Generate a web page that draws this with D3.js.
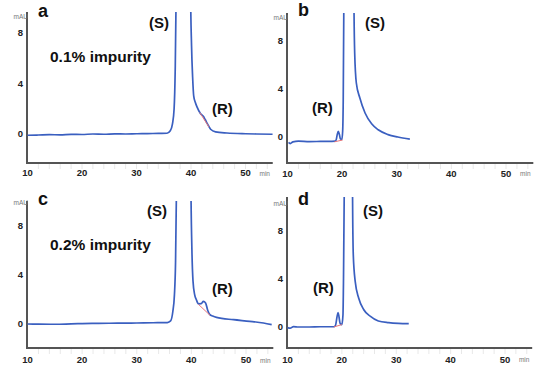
<!DOCTYPE html>
<html><head><meta charset="utf-8">
<script src="https://cdn.jsdelivr.net/npm/d3@7/dist/d3.min.js"></script>
<style>
html,body{margin:0;padding:0;background:#fff;}
svg{display:block;font-family:Arial,"Liberation Sans",sans-serif;}
</style></head>
<body><svg id="c" width="550" height="376"></svg>
<script>
// ---- data (time in min, absorbance in mAU) ----
const xTicks = [10, 20, 30, 40, 50];
const yTicks = [0, 4, 8];
const panelLetters = ["a", "b", "c", "d"];
const impurityLabels = ["0.1% impurity", "", "0.2% impurity", ""];

const traceA = [[10,-0.1],[12,-0.08],[14,-0.05],[16,-0.07],[18,-0.03],[20,-0.04],[22,0.0],[24,-0.02],[26,0.01],[28,0.0],[30,0.02],[32,0.03],[34,0.05],[35.6,0.06],[36.2,0.25],[36.6,0.8],[36.9,2.0],[37.1,5],[37.3,12],[37.6,40],[38.6,80],[39.6,40],[39.9,12],[40.1,7],[40.3,4.5],[40.5,3.0],[40.8,2.5],[41.1,2.15],[41.7,1.65],[42.3,1.38],[42.6,1.15],[43.0,0.82],[43.6,0.38],[44.5,0.17],[46.6,0.08],[50,0.02],[52,0.0],[55,-0.02]];
const traceB = [[10.2,-0.45],[10.5,-0.55],[11.0,-0.4],[12,-0.35],[14,-0.38],[16,-0.37],[18,-0.36],[18.7,-0.35],[18.9,-0.25],[19.1,0.2],[19.3,0.47],[19.5,0.2],[19.7,-0.17],[19.95,-0.2],[20.1,0.5],[20.2,3],[20.3,10],[20.5,40],[21.3,80],[22.0,40],[22.15,12],[22.3,7],[22.6,4.5],[23.25,3.25],[24.2,2.0],[25.4,1.1],[26.6,0.6],[28.4,0.2],[30.2,0.0],[32.4,-0.17]];
const traceC = [[10,0.0],[12,-0.01],[15,-0.02],[18,0.01],[20,0.03],[23,0.05],[25,0.06],[28,0.07],[30,0.08],[33,0.1],[35.6,0.12],[36.2,0.25],[36.6,1.0],[36.9,2.4],[37.1,5],[37.3,12],[37.6,40],[38.6,80],[39.6,40],[39.9,12],[40.1,6],[40.3,3.5],[40.6,2.4],[40.9,2.0],[41.3,1.65],[41.8,1.66],[42.2,1.84],[42.6,1.72],[43.0,1.1],[43.4,0.76],[43.9,0.65],[44.6,0.54],[47.7,0.35],[50.7,0.22],[53.2,0.08],[54.7,-0.05]];
const traceD = [[10.0,-0.05],[10.5,-0.1],[11.1,0.03],[12,0.0],[14,0.0],[16,0.02],[18.5,0.02],[18.8,0.1],[19.3,1.2],[19.7,0.28],[20.0,0.2],[20.2,1.0],[20.3,4],[20.45,12],[20.7,40],[21.3,80],[21.8,40],[21.95,12],[22.1,6],[22.45,3.8],[23.1,2.4],[24.0,1.46],[25.2,0.9],[26.7,0.5],[28.6,0.36],[30.4,0.3],[32.3,0.28]];

const baseA = [[41.6,1.7],[43.3,0.55]];
const baseB = [[18.6,-0.4],[20.1,-0.25]];
const baseC = [[41.3,1.6],[43.4,0.72]];
const baseD = [[18.5,0.0],[20.0,0.2]];

const traces = [traceA, traceB, traceC, traceD];
const baselines = [baseA, baseB, baseC, baseD];

// ---- layout ----
const layout = [
  {x10:27.5, x50:245.5, y0:134, y8:33, top:12, bottom:163, tickBase:176, minBase:176,
   letter:[38,17], S:[149,28.3], R:[212,113.5], imp:[50,61.5], mau:19},
  {x10:287.5, x50:506, y0:137, y8:41, top:13, bottom:163, tickBase:176.5, minBase:176,
   letter:[298,16], S:[365,28.3], R:[312,113.3], imp:[0,0], mau:20},
  {x10:27.5, x50:246, y0:324, y8:226, top:201, bottom:348, tickBase:363.3, minBase:363,
   letter:[38,205], S:[147,216.3], R:[212,294], imp:[50,250.3], mau:205},
  {x10:287.5, x50:505, y0:327, y8:231, top:197, bottom:348, tickBase:362.7, minBase:361.5,
   letter:[298,204.7], S:[363,216.3], R:[313,293], imp:[0,0], mau:206}
];

const svg = d3.select("#c");
const axisColor = "#555";
const traceColor = "#3a5fc0";
const redColor = "#e8767a";

layout.forEach((L, i) => {
  const x = d3.scaleLinear().domain([10, 50]).range([L.x10, L.x50]);
  const y = d3.scaleLinear().domain([0, 8]).range([L.y0, L.y8]);
  const g = svg.append("g");
  const axX = x(10) - 0.5;
  const xEnd = x(55);

  const clipId = "clip" + i;
  g.append("clipPath").attr("id", clipId).append("rect")
    .attr("x", axX).attr("y", L.top).attr("width", xEnd - axX).attr("height", L.bottom - L.top);

  // minor ticks (faint)
  const minor = d3.range(12, 55, 2);
  g.selectAll(".mt").data(minor).enter().append("line")
    .attr("x1", d => x(d)).attr("x2", d => x(d))
    .attr("y1", L.bottom + 1).attr("y2", L.bottom + 6)
    .attr("stroke", "#e2e2e2").attr("stroke-width", 0.8);

  // axes lines
  g.append("line").attr("x1", axX).attr("x2", axX).attr("y1", L.top).attr("y2", L.bottom + 1)
    .attr("stroke", axisColor).attr("stroke-width", 2);
  g.append("line").attr("x1", axX - 1).attr("x2", xEnd).attr("y1", L.bottom).attr("y2", L.bottom)
    .attr("stroke", axisColor).attr("stroke-width", 2);

  // x tick labels
  g.selectAll(".xt").data(xTicks).enter().append("text")
    .attr("x", d => x(d)).attr("y", L.tickBase)
    .attr("text-anchor", "middle").attr("font-size", 9.5).attr("font-weight", "bold")
    .attr("fill", "#222").text(d => d);
  // y tick labels
  g.selectAll(".yt").data(yTicks).enter().append("text")
    .attr("x", axX - 4).attr("y", d => y(d)).attr("dy", "0.35em")
    .attr("text-anchor", "end").attr("font-size", 9.5).attr("font-weight", "bold")
    .attr("fill", "#222").text(d => d);

  // unit labels
  g.append("text").attr("x", axX + 1).attr("y", L.mau).attr("text-anchor", "end")
    .attr("font-size", 6.5).attr("fill", "#777").text("mAU");
  g.append("text").attr("x", xEnd - 8).attr("y", L.minBase).attr("text-anchor", "middle")
    .attr("font-size", 6.5).attr("fill", "#777").text("min");

  // trace
  const line = d3.line().x(d => x(d[0])).y(d => y(d[1])).curve(d3.curveMonotoneX);
  const pg = g.append("g").attr("clip-path", `url(#${clipId})`);
  pg.append("path").datum(traces[i]).attr("d", line)
    .attr("fill", "none").attr("stroke", traceColor).attr("stroke-width", 1.7)
    .attr("stroke-linejoin", "round");
  pg.append("path").datum(baselines[i]).attr("d", d3.line().x(d => x(d[0])).y(d => y(d[1])))
    .attr("fill", "none").attr("stroke", redColor).attr("stroke-width", 1);

  // labels
  g.append("text").attr("x", L.letter[0]).attr("y", L.letter[1])
    .attr("font-size", 18).attr("font-weight", "bold").attr("fill", "#111").text(panelLetters[i]);
  g.append("text").attr("x", L.S[0]).attr("y", L.S[1])
    .attr("font-size", 15).attr("font-weight", "bold").attr("fill", "#111").text("(S)");
  g.append("text").attr("x", L.R[0]).attr("y", L.R[1])
    .attr("font-size", 15).attr("font-weight", "bold").attr("fill", "#111").text("(R)");
  if (impurityLabels[i]) {
    g.append("text").attr("x", L.imp[0]).attr("y", L.imp[1])
      .attr("font-size", 15.5).attr("font-weight", "bold").attr("fill", "#111").text(impurityLabels[i]);
  }
});
</script></body></html>
